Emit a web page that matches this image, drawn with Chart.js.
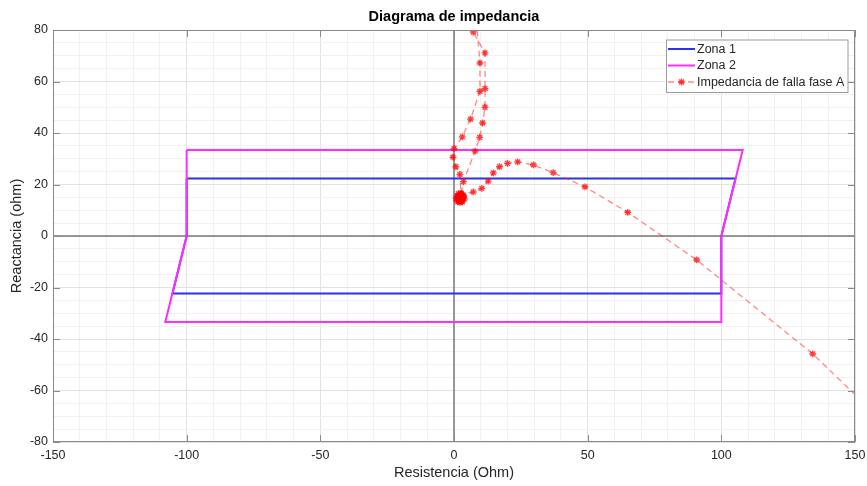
<!DOCTYPE html>
<html>
<head>
<meta charset="utf-8">
<title>Diagrama de impedancia</title>
<script src="https://cdn.jsdelivr.net/npm/chart.js@4/dist/chart.umd.min.js"></script>
<style>
  html, body { margin: 0; padding: 0; background: #ffffff; }
  #wrap { width: 867px; height: 486px; }
</style>
</head>
<body>
<div id="wrap"><canvas id="c" width="867" height="486"></canvas></div>
<script>
// Zona 1 (cuadrilátero), resistencia y reactancia en ohm
const zona1R = [-100, 105.3, 100, 100, -105.3, -100, -100];
const zona1X = [22.3, 22.3, 0, -22.3, -22.3, 0, 22.3];

// Zona 2 (cuadrilátero)
const zona2R = [-100, 108, 100, 100, -108, -100, -100];
const zona2X = [33.4, 33.4, 0, -33.4, -33.4, 0, 33.4];

// Trayectoria de la impedancia vista durante la falla, fase A
const fallaR = [188, 134.2, 90.8, 65.0, 49.0, 37.1, 29.7, 23.8, 20.0, 17.0, 14.7, 12.8, 10.4, 7.2,
  3.0, 2.1, 1.3, 1.9, 3.2, 3.6, 2.5, 1.5, 2.8, 2.3, 1.1, 3.4, 2.0, 2.9,
  0.8, 3.9, 1.6, 2.6, 3.7, 1.0, 2.2, 3.1, 1.4, 2.7,
  3.5, 7.9, 9.6, 10.7, 11.6, 11.6, 11.6, 7.2, 5.5, 7.5, 9.7, 9.7, 6.2, 3.1, 0.0, -0.4, 0.7, 2.2, 2.6];
const fallaX = [-99.5, -45.8, -9.3, 9.2, 19.1, 24.6, 27.6, 28.8, 28.2, 26.9, 24.5, 21.3, 18.5, 17.1,
  16.0, 15.8, 14.8, 13.6, 14.0, 15.0, 14.9, 15.7, 13.5, 14.3, 15.4, 15.9, 14.1, 14.7,
  14.6, 14.4, 16.4, 16.6, 15.5, 13.9, 13.1, 13.2, 13.3, 16.3,
  21.1, 33.0, 38.3, 43.9, 50.0, 57.2, 71.1, 79.2, 92.0, 95.0, 67.2, 56.2, 45.4, 38.5, 33.9, 30.6, 26.9, 23.9, 16.5];

// Marcas de los ejes
const xLim = [-150, 150];
const yLim = [-80, 80];
const xMajorStep = 50, xMinorStep = 10;
const yMajorStep = 20, yMinorStep = 5;

const toPoints = (r, x) => r.map((v, i) => ({ x: v, y: x[i] }));

const FONT = "'Liberation Sans', Arial, Helvetica, sans-serif";
const TEXT = '#262626';
const GRID_MAJOR = '#e2e2e2';
const GRID_MINOR = '#f1f1f1';

function buildTicks(scale, lo, hi, step) {
  const t = [];
  for (let v = lo; v <= hi + 1e-9; v += step) t.push({ value: Math.round(v * 1000) / 1000 });
  scale.ticks = t;
}

// Ejes en cero, caja con marcas hacia dentro, título y leyenda
const decorPlugin = {
  id: 'decor',
  beforeDatasetsDraw(chart) {
    const { ctx, chartArea: a, scales } = chart;
    const x0 = scales.x.getPixelForValue(0);
    const y0 = scales.y.getPixelForValue(0);
    ctx.save();
    ctx.strokeStyle = '#7a7a7a';
    ctx.lineWidth = 1.5;
    ctx.beginPath();
    ctx.moveTo(a.left, y0); ctx.lineTo(a.right, y0);
    ctx.moveTo(x0, a.top); ctx.lineTo(x0, a.bottom);
    ctx.stroke();
    ctx.restore();
  },
  afterDatasetsDraw(chart) {
    const { ctx, chartArea: a, scales } = chart;
    const tl = 7;
    ctx.save();
    ctx.strokeStyle = '#8a8a8a';
    ctx.lineWidth = 1;
    ctx.strokeRect(a.left + 0.5, a.top + 0.5, a.right - a.left - 1, a.bottom - a.top - 1);
    ctx.beginPath();
    scales.x.ticks.forEach(t => {
      if (t.value % xMajorStep !== 0) return;
      const px = Math.round(scales.x.getPixelForValue(t.value)) + 0.5;
      ctx.moveTo(px, a.bottom); ctx.lineTo(px, a.bottom - tl);
      ctx.moveTo(px, a.top); ctx.lineTo(px, a.top + tl);
    });
    scales.y.ticks.forEach(t => {
      if (t.value % yMajorStep !== 0) return;
      const py = Math.round(scales.y.getPixelForValue(t.value)) + 0.5;
      ctx.moveTo(a.left, py); ctx.lineTo(a.left + tl, py);
      ctx.moveTo(a.right, py); ctx.lineTo(a.right - tl, py);
    });
    ctx.stroke();

    // Título
    ctx.fillStyle = '#000';
    ctx.font = 'bold 14.5px ' + FONT;
    ctx.textAlign = 'center';
    ctx.textBaseline = 'middle';
    ctx.fillText('Diagrama de impedancia', (a.left + a.right) / 2, 17);

    // Leyenda
    const lx = a.right - 189, ly = a.top + 9.5, lw = 181.5, lh = 52.5, rowH = 16.5;
    ctx.fillStyle = '#ffffff';
    ctx.fillRect(lx, ly, lw, lh);
    ctx.strokeStyle = '#9a9a9a';
    ctx.lineWidth = 1;
    ctx.strokeRect(lx + 0.5, ly + 0.5, lw, lh);
    ctx.font = '12.5px ' + FONT;
    ctx.textAlign = 'left';
    chart.data.datasets.forEach((ds, i) => {
      const cy = ly + 9.5 + i * rowH;
      ctx.save();
      ctx.strokeStyle = ds.borderColor;
      ctx.lineWidth = ds.borderWidth;
      ctx.setLineDash(ds.borderDash || []);
      ctx.beginPath();
      ctx.moveTo(lx + 2, cy); ctx.lineTo(lx + 29, cy);
      ctx.stroke();
      ctx.restore();
      if (ds.pointRadius > 0) {
        const r = ds.pointRadius, cx = lx + 15.5, d = r * Math.SQRT1_2;
        ctx.save();
        ctx.strokeStyle = ds.pointBorderColor;
        ctx.lineWidth = ds.pointBorderWidth;
        ctx.beginPath();
        ctx.moveTo(cx - r, cy); ctx.lineTo(cx + r, cy);
        ctx.moveTo(cx, cy - r); ctx.lineTo(cx, cy + r);
        ctx.moveTo(cx - d, cy - d); ctx.lineTo(cx + d, cy + d);
        ctx.moveTo(cx - d, cy + d); ctx.lineTo(cx + d, cy - d);
        ctx.stroke();
        ctx.restore();
      }
      ctx.fillStyle = TEXT;
      ctx.fillText(ds.label, lx + 31, cy + 0.5);
    });
    ctx.restore();
  }
};

const gridColor = (major) => (c) => (c.tick && c.tick.value % major === 0) ? GRID_MAJOR : GRID_MINOR;

new Chart(document.getElementById('c'), {
  type: 'scatter',
  data: {
    datasets: [
      {
        label: 'Zona 1',
        data: toPoints(zona1R, zona1X),
        showLine: true,
        borderColor: '#2f2ff0',
        borderWidth: 2,
        pointRadius: 0,
        tension: 0,
        order: 2
      },
      {
        label: 'Zona 2',
        data: toPoints(zona2R, zona2X),
        showLine: true,
        borderColor: '#ff2bff',
        borderWidth: 2,
        pointRadius: 0,
        tension: 0,
        order: 1
      },
      {
        label: 'Impedancia de falla fase A',
        data: toPoints(fallaR, fallaX),
        showLine: true,
        borderColor: 'rgba(255, 40, 40, 0.55)',
        borderWidth: 1.3,
        borderDash: [6, 4],
        pointStyle: 'star',
        pointRadius: 3.4,
        pointBorderWidth: 1.4,
        pointBorderColor: 'rgba(255, 0, 0, 0.75)',
        pointBackgroundColor: 'rgba(255, 0, 0, 0.75)',
        tension: 0,
        order: 0
      }
    ]
  },
  options: {
    responsive: false,
    animation: false,
    devicePixelRatio: 1,
    layout: { padding: { left: 0, right: 12, top: 30, bottom: 0 } },
    plugins: {
      legend: { display: false },
      tooltip: { enabled: false },
      title: { display: false }
    },
    scales: {
      x: {
        type: 'linear',
        min: xLim[0], max: xLim[1],
        afterBuildTicks: s => buildTicks(s, xLim[0], xLim[1], xMinorStep),
        afterFit: s => { s.height = 44; s.paddingLeft = 0; s.paddingRight = 0; },
        grid: { color: gridColor(xMajorStep), lineWidth: 1, drawTicks: false },
        border: { display: false },
        ticks: {
          autoSkip: false, maxRotation: 0, padding: 6,
          color: TEXT, font: { family: FONT, size: 12.5 },
          callback: v => (v % xMajorStep === 0 ? String(v) : '')
        },
        title: {
          display: true, text: 'Resistencia (Ohm)', color: TEXT,
          font: { family: FONT, size: 14.5 }, padding: { top: 0, bottom: 4 }
        }
      },
      y: {
        type: 'linear',
        min: yLim[0], max: yLim[1],
        afterBuildTicks: s => buildTicks(s, yLim[0], yLim[1], yMinorStep),
        afterFit: s => { s.width = 53; s.paddingTop = 0; s.paddingBottom = 0; },
        grid: { color: gridColor(yMajorStep), lineWidth: 1, drawTicks: false },
        border: { display: false },
        ticks: {
          autoSkip: false, padding: 5,
          color: TEXT, font: { family: FONT, size: 12.5 },
          callback: v => (v % yMajorStep === 0 ? String(v) : '')
        },
        title: {
          display: true, text: 'Reactancia (ohm)', color: TEXT,
          font: { family: FONT, size: 14.5 }, padding: { top: 8, bottom: 0 }
        }
      }
    }
  },
  plugins: [decorPlugin]
});
</script>
</body>
</html>
